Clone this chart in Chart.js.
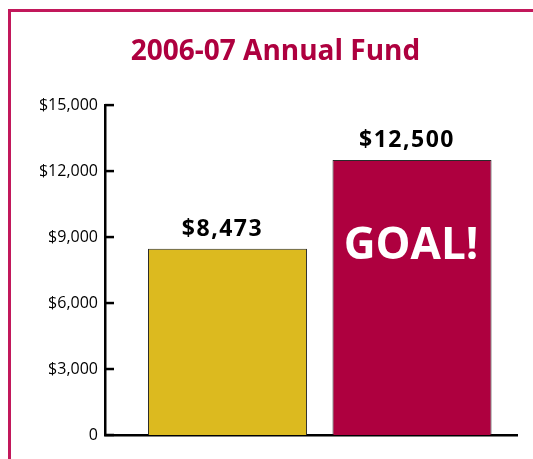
<!DOCTYPE html>
<html>
<head>
<meta charset="utf-8">
<script src="https://cdn.jsdelivr.net/npm/chart.js@4/dist/chart.umd.min.js"></script>
<style>
  html, body { margin: 0; padding: 0; background: #fff; overflow: hidden; }
  #wrap { position: relative; width: 533px; height: 459px; overflow: hidden; }
  #frame {
    position: absolute; left: 8px; top: 9px; width: 700px; height: 700px;
    border: 3px solid #c2185b; box-sizing: border-box;
  }
  #chart { position: absolute; left: 0; top: 0; }
</style>
</head>
<body>
<div id="wrap">
  <div id="frame"></div>
  <canvas id="chart" width="533" height="459"></canvas>
</div>
<script>
// Chart data
var categories = ['Raised', 'Goal'];
var amounts = [8473, 12500];
var yTickValues = [0, 3000, 6000, 9000, 12000, 15000];
var goalText = 'GOAL!';

// Colours
var barColors = ['#dcba1f', '#ae003f'];
var titleColor = '#ae003f';

function money(v) {
  return v === 0 ? '0' : '$' + v.toLocaleString('en-US');
}

// Short inward tick marks on the y axis
var yTickMarks = {
  id: 'yTickMarks',
  afterDraw: function(chart) {
    var ctx = chart.ctx;
    var y = chart.scales.y;
    var left = chart.chartArea.left;
    ctx.save();
    ctx.strokeStyle = '#000';
    ctx.lineWidth = 2.5;
    y.ticks.forEach(function(t) {
      var py = y.getPixelForValue(t.value);
      ctx.beginPath();
      ctx.moveTo(left, py);
      ctx.lineTo(left + 9, py);
      ctx.stroke();
    });
    ctx.restore();
  }
};

// Value labels above bars and the GOAL! text
var barLabels = {
  id: 'barLabels',
  afterDatasetsDraw: function(chart) {
    var ctx = chart.ctx;
    var meta = chart.getDatasetMeta(0);
    ctx.save();
    ctx.textAlign = 'center';
    ctx.textBaseline = 'alphabetic';
    meta.data.forEach(function(bar, i) {
      ctx.fillStyle = '#000';
      ctx.font = 'bold 23px "Open Sans"';
      ctx.letterSpacing = '1.5px';
      ctx.fillText(money(amounts[i]), bar.x - 5, bar.y - 13);
      if (i === categories.length - 1) {
        ctx.fillStyle = '#fff';
        ctx.font = 'bold 44px "Open Sans"';
        ctx.letterSpacing = '0px';
        ctx.fillText(goalText, bar.x - 1, bar.y + 99);
      }
    });
    ctx.restore();
  }
};

var ctx = document.getElementById('chart').getContext('2d');

new Chart(ctx, {
  type: 'bar',
  data: {
    datasets: [{
      label: '2006-07 Annual Fund',
      data: amounts.map(function(v, i) { return { x: i + 1, y: v }; }),
      backgroundColor: barColors,
      borderColor: '#2a2a2a',
      borderWidth: 1,
      barPercentage: 0.862,
      categoryPercentage: 1
    }]
  },
  options: {
    responsive: false,
    animation: false,
    layout: { padding: { left: 34, right: 16, top: 0, bottom: 24 } },
    plugins: {
      legend: { display: false },
      tooltip: { enabled: false },
      title: {
        display: true,
        text: '2006-07 Annual Fund',
        color: titleColor,
        font: { family: 'Open Sans', size: 28, weight: 'bold', lineHeight: 1.2 },
        padding: { top: 35, bottom: 36.5 }
      }
    },
    scales: {
      x: {
        type: 'linear',
        offset: false,
        min: 0.336,
        max: 2.569,
        z: 1,
        grid: { display: false },
        border: { display: true, color: '#000', width: 2.5 },
        ticks: { display: false },
        afterBuildTicks: function(scale) {
          scale.ticks = categories.map(function(c, i) { return { value: i + 1 }; });
        },
        afterFit: function(scale) { scale.height = 0; }
      },
      y: {
        min: 0,
        max: 15000,
        z: 1,
        grid: { display: false, drawTicks: false },
        border: { display: true, color: '#000', width: 2.5 },
        afterBuildTicks: function(scale) {
          scale.ticks = yTickValues.map(function(v) { return { value: v }; });
        },
        ticks: {
          padding: 7,
          color: '#000',
          font: { family: 'Open Sans', size: 16 },
          callback: function(v) { return money(v); }
        },
        afterFit: function(scale) { scale.width = 71; }
      }
    }
  },
  plugins: [yTickMarks, barLabels]
});
</script>
</body>
</html>
